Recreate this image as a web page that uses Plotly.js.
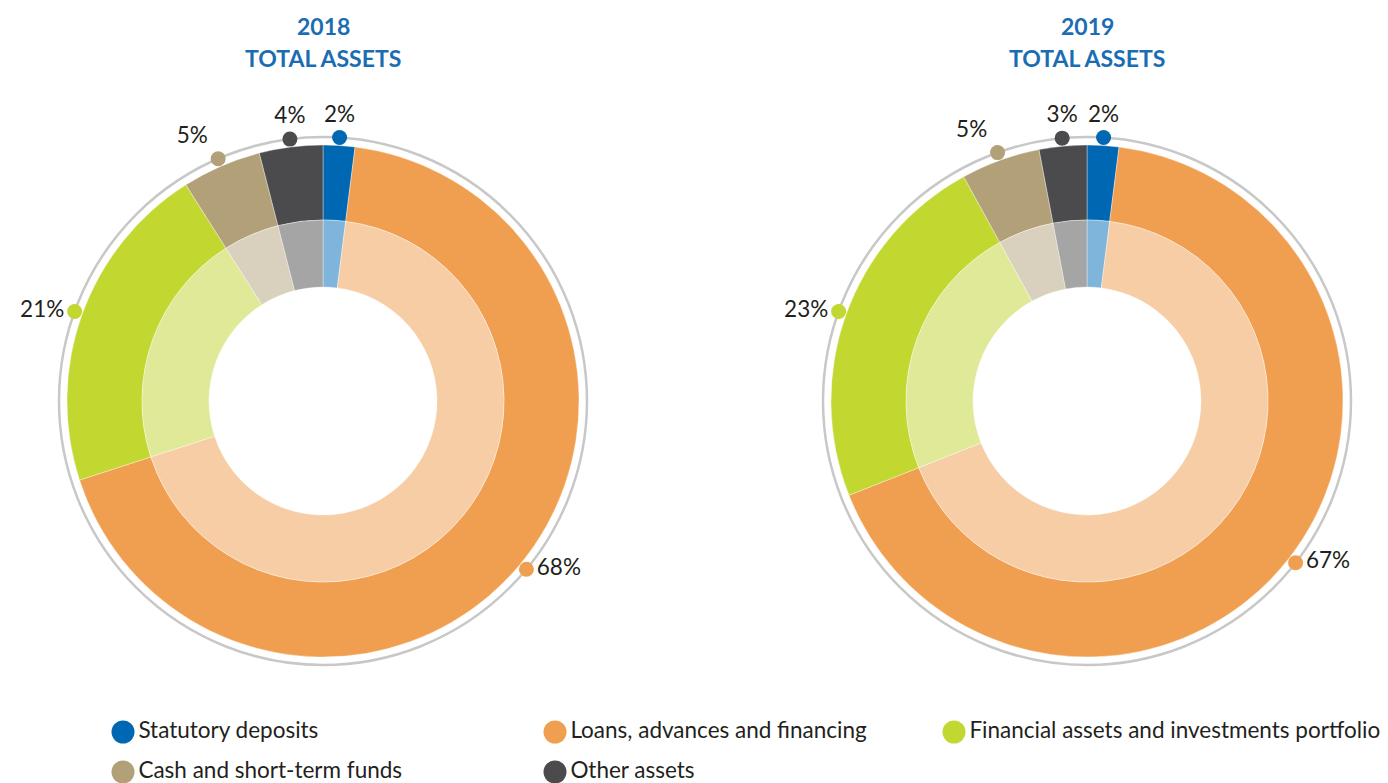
<!DOCTYPE html>
<html>
<head>
<meta charset="utf-8">
<script src="https://cdn.plot.ly/plotly-3.0.1.min.js"></script>
<style>
html,body{margin:0;padding:0;background:#fff;}
#chart{width:1388px;height:783px;}
</style>
</head>
<body>
<div id="chart"></div>
<script>
// ---- data ----
const categories = ["Statutory deposits", "Loans, advances and financing", "Financial assets and investments portfolio", "Cash and short-term funds", "Other assets"];
const years = ["2018", "2019"];
const values2018 = [2, 68, 21, 5, 4];
const values2019 = [2, 67, 23, 5, 3];
const titleLine2 = "TOTAL ASSETS";

// ---- styles ----
const darkColors  = ["#0068b3", "#f09e4f", "#c2d72f", "#b2a178", "#4b4b4d"];
const lightColors = ["#7fb4db", "#f7cda6", "#dfe997", "#d9d1bd", "#a5a5a6"];
const W = 1388, H = 783;
const FONT = "Lato, 'Open Sans', sans-serif";
const centers = [[323, 401], [1087, 401]];
const R_OUT = 256, R_MID = 181, R_IN = 114, R_RING = 264;

function dom(cx, cy, r){
  return {x:[(cx-r)/W, (cx+r)/W], y:[1-(cy+r)/H, 1-(cy-r)/H]};
}

const traces = [];
const shapes = [];
const annotations = [];
const allVals = [values2018, values2019];

allVals.forEach((vals, k) => {
  const [cx, cy] = centers[k];
  traces.push({
    type:"pie", values: vals, labels: categories, sort:false, direction:"clockwise", rotation:0,
    hole: R_MID/R_OUT, domain: dom(cx, cy, R_OUT), textinfo:"none", hoverinfo:"label+percent",
    marker:{colors: darkColors, line:{color:"rgba(255,255,255,0.6)", width:0.6}}, showlegend:false
  });
  traces.push({
    type:"pie", values: vals, labels: categories, sort:false, direction:"clockwise", rotation:0,
    hole: R_IN/R_MID, domain: dom(cx, cy, R_MID), textinfo:"none", hoverinfo:"label+percent",
    marker:{colors: lightColors, line:{color:"rgba(255,255,255,0.6)", width:0.6}}, showlegend:false
  });
  shapes.push({type:"circle", xref:"x", yref:"y", x0:cx-R_RING, x1:cx+R_RING, y0:cy-R_RING, y1:cy+R_RING,
    line:{color:"#c8c8c8", width:2.5}, fillcolor:"rgba(0,0,0,0)", layer:"below"});
  // label dots at slice mid-angles
  const total = vals.reduce((a,b)=>a+b,0);
  let cum = 0;
  const xs=[], ys=[], txt=[], pos=[];
  vals.forEach(v => {
    const mid = (cum + v/2)/total*360; cum += v;
    const a = mid*Math.PI/180;
    xs.push(cx + R_RING*Math.sin(a));
    ys.push(cy - R_RING*Math.cos(a));
    txt.push(Math.round(v/total*100) + "%");
    let p;
    if (mid < 20 || mid > 345) p = "top center";
    else if (mid >= 300) p = "top left";
    else if (mid < 180) p = "middle right";
    else p = "middle left";
    pos.push(p);
  });
  traces.push({type:"scatter", mode:"markers+text", x:xs, y:ys, text:txt, textposition:pos,
    marker:{size:15, color:darkColors}, textfont:{family:FONT, size:22.5, color:"#231f20"},
    hoverinfo:"skip", showlegend:false, cliponaxis:false});
  annotations.push({xref:"x", yref:"y", x:cx, y:26, text:"<b>"+years[k]+"</b>", showarrow:false,
    font:{family:FONT, size:23, color:"#1b6db3"}});
  annotations.push({xref:"x", yref:"y", x:cx, y:58, text:"<b>"+titleLine2+"</b>", showarrow:false,
    font:{family:FONT, size:23, color:"#1b6db3"}});
});

// legend drawn as markers + text
const legX = [123, 555, 954, 123, 555];
const legY = [732, 732, 732, 772, 772];
traces.push({type:"scatter", mode:"markers+text", x:legX, y:legY, text:categories,
  textposition:"middle right", marker:{size:23, color:darkColors},
  textfont:{family:FONT, size:22.5, color:"#231f20"}, hoverinfo:"skip", showlegend:false, cliponaxis:false});

const layout = {
  width:W, height:H, margin:{l:0,r:0,t:0,b:0}, paper_bgcolor:"#fff", plot_bgcolor:"rgba(0,0,0,0)",
  xaxis:{range:[0,W], visible:false, fixedrange:true},
  yaxis:{range:[H,0], visible:false, fixedrange:true},
  shapes:shapes, annotations:annotations, showlegend:false, font:{family:FONT}
};
Plotly.newPlot("chart", traces, layout, {displayModeBar:false, staticPlot:true});
</script>
</body>
</html>
